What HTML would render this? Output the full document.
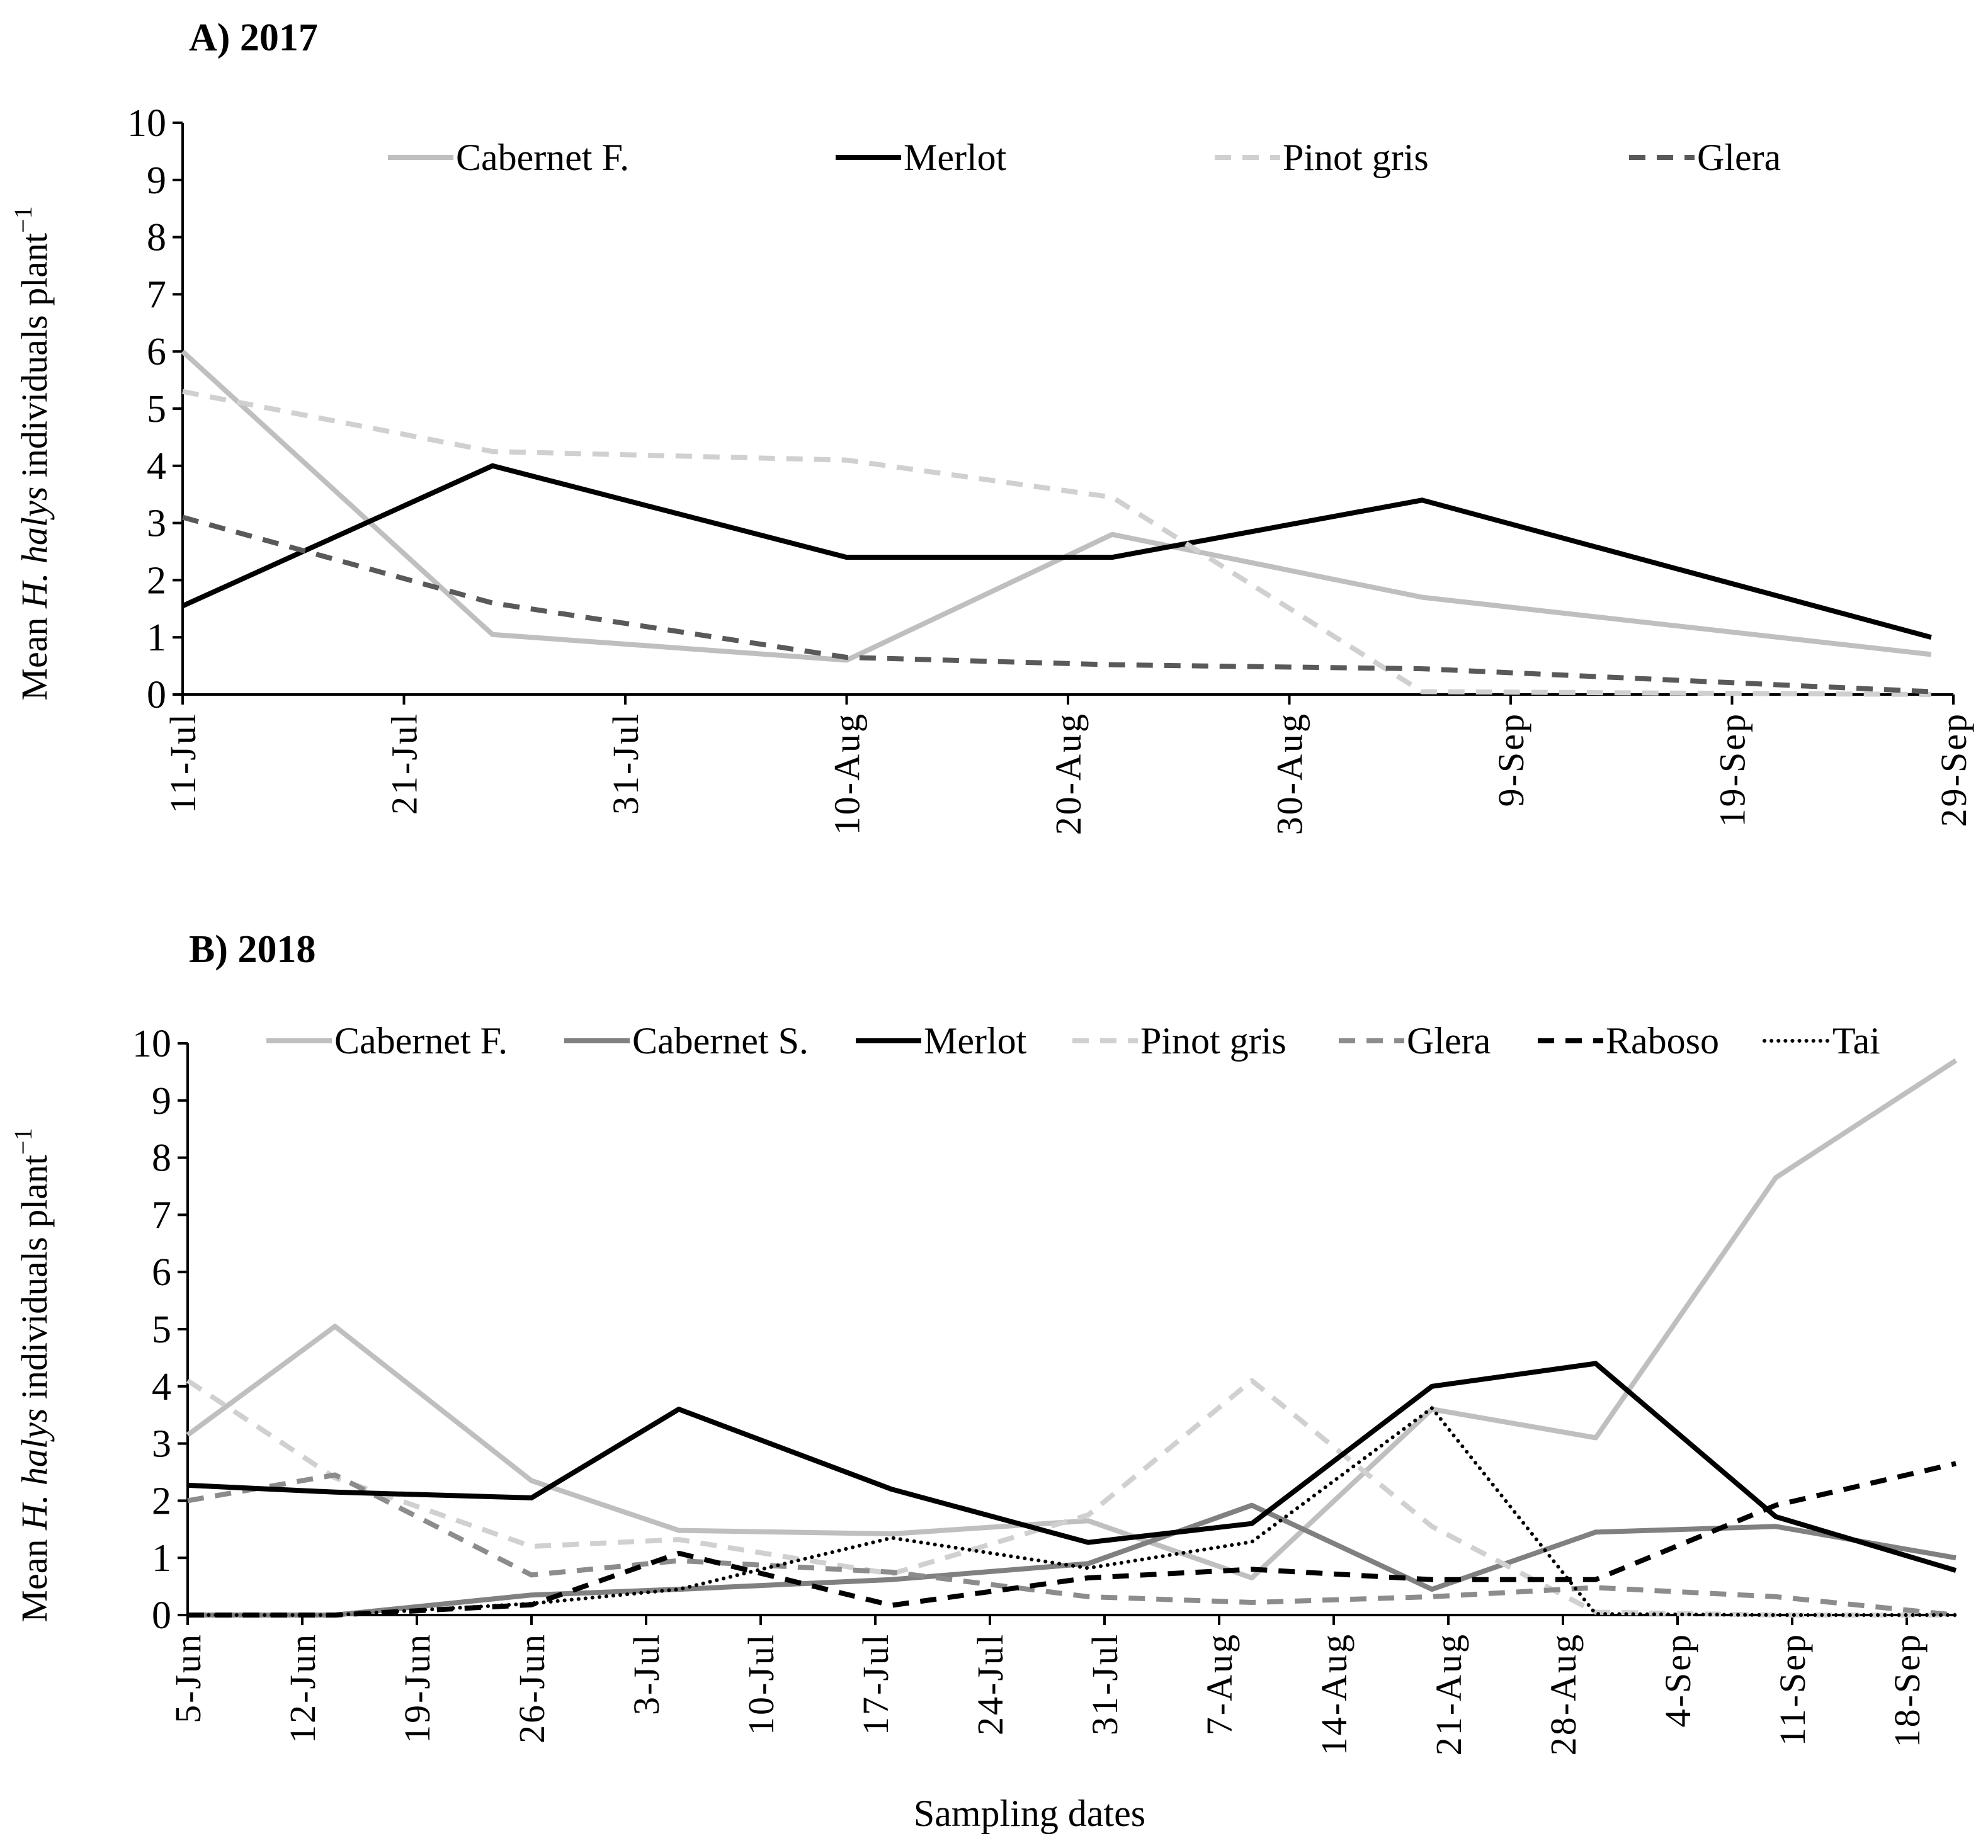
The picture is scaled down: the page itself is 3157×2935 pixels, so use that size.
<!DOCTYPE html>
<html><head><meta charset="utf-8"><style>
html,body{margin:0;padding:0;background:#fff;}
svg{display:block;font-family:"Liberation Serif",serif;}
</style></head><body>
<svg id="fig" width="3157" height="2935" viewBox="0 0 3157 2935" xmlns="http://www.w3.org/2000/svg">
<text x="300" y="80" font-size="62" font-weight="bold">A) 2017</text>
<text x="300" y="1528" font-size="62" font-weight="bold">B) 2018</text>
<text transform="translate(74,720) rotate(-90)" text-anchor="middle" font-size="58">Mean <tspan font-style="italic">H. halys</tspan> individuals plant<tspan dy="-24" font-size="40">−1</tspan></text>
<text transform="translate(74,2184) rotate(-90)" text-anchor="middle" font-size="58">Mean <tspan font-style="italic">H. halys</tspan> individuals plant<tspan dy="-24" font-size="40">−1</tspan></text>
<text x="1635" y="2900" text-anchor="middle" font-size="60">Sampling dates</text>
<g id="ga"></g><g id="gb"></g>
</svg>
<script>
// Panel A data (days since 11-Jul)
const aTickLabels = ["11-Jul","21-Jul","31-Jul","10-Aug","20-Aug","30-Aug","9-Sep","19-Sep","29-Sep"];
const aDays = [0,14,30,42,56,79];
const aCabF = [6.0,1.05,0.6,2.8,1.7,0.7];
const aMerlot = [1.55,4.0,2.4,2.4,3.4,1.0];
const aPinot = [5.3,4.25,4.1,3.45,0.05,0.0];
const aGlera = [3.1,1.6,0.65,0.52,0.45,0.05];
// Panel B data (days since 5-Jun)
const bTickLabels = ["5-Jun","12-Jun","19-Jun","26-Jun","3-Jul","10-Jul","17-Jul","24-Jul","31-Jul","7-Aug","14-Aug","21-Aug","28-Aug","4-Sep","11-Sep","18-Sep"];
const bDays = [0,9,21,30,43,55,65,76,86,97,108];
const bCabF = [3.15,5.05,2.35,1.48,1.42,1.65,0.65,3.6,3.1,7.65,9.7];
const bCabS = [0,0,0.35,0.45,0.62,0.9,1.92,0.45,1.45,1.55,1.0];
const bMerlot = [2.27,2.15,2.05,3.6,2.2,1.27,1.6,4.0,4.4,1.72,0.78];
const bPinot = [4.1,2.4,1.2,1.32,0.72,1.75,4.1,1.55,0.05,0.0,0.0];
const bGlera = [2.0,2.45,0.7,0.95,0.75,0.32,0.22,0.32,0.48,0.32,0.0];
const bRaboso = [0,0,0.18,1.08,0.17,0.65,0.8,0.62,0.62,1.92,2.65];
const bTai = [0,0,0.2,0.45,1.35,0.82,1.28,3.62,0.02,0.0,0.0];
const yTicks = [0,1,2,3,4,5,6,7,8,9,10];

const NS="http://www.w3.org/2000/svg";
function mk(tag,attrs,parent){const e=document.createElementNS(NS,tag);for(const k in attrs)e.setAttribute(k,attrs[k]);parent.appendChild(e);return e;}

function panel(g,cfg){
  const xs=d=>cfg.x0+(d-cfg.d0)*(cfg.x1-cfg.x0)/(cfg.d1-cfg.d0);
  const ys=v=>cfg.y0+(v)*(cfg.y10-cfg.y0)/10;
  const axY=mk('line',{x1:xs(cfg.d0),y1:ys(0),x2:xs(cfg.d0),y2:ys(10),stroke:'#000','stroke-width':4},g);
  
  
  yTicks.forEach(v=>{
    const t=mk('line',{x1:xs(cfg.d0)-16,y1:ys(v),x2:xs(cfg.d0),y2:ys(v),stroke:'#000','stroke-width':4},g);
    
    
    const l=mk('text',{x:xs(cfg.d0)-26,y:ys(v)+21,'text-anchor':'end','font-size':62},g);
    l.textContent=v;
    
    
  });
  const axX=mk('line',{x1:xs(cfg.d0),y1:ys(0),x2:cfg.xend,y2:ys(0),stroke:'#000','stroke-width':4},g);
  
  
  cfg.ticks.forEach((lab,i)=>{
    const d=cfg.d0+i*cfg.step;
    const t=mk('line',{x1:xs(d),y1:ys(0),x2:xs(d),y2:ys(0)+16,stroke:'#000','stroke-width':4},g);
    
    
    const l=mk('text',{transform:`translate(${xs(d)+20},${ys(0)+28}) rotate(-90)`,'text-anchor':'end','font-size':58,'letter-spacing':'3'},g);
    l.textContent=lab;
    
    
  });
  cfg.series.forEach(s=>{
    const pts=cfg.days.map((d,i)=>xs(d).toFixed(1)+','+ys(s.vals[i]).toFixed(1)).join(' ');
    const p=mk('polyline',{points:pts,fill:'none',stroke:s.color,'stroke-width':s.w||8,'stroke-dasharray':s.dash||'none','stroke-linejoin':'round','stroke-linecap':s.cap||'butt'},g);
    
    
    const ly=cfg.legY;
    const ll=mk('line',{x1:s.lx,y1:ly,x2:s.lx+104,y2:ly,stroke:s.color,'stroke-width':s.w||8,'stroke-dasharray':s.dash||'none','stroke-linecap':s.cap||'butt'},g);
    
    
    const lt=mk('text',{x:s.lx+108,y:ly+20,'font-size':60},g);
    lt.textContent=s.name;
    
    
  });
}
panel(document.getElementById('ga'),{x0:290,x1:3102,d0:0,d1:80,y0:1103,y10:195,xend:3102,step:10,ticks:aTickLabels,days:aDays,legY:250,
 series:[
  {key:'cabernet-f',name:'Cabernet F.',vals:aCabF,color:'#bfbfbf',lx:616},
  {key:'merlot',name:'Merlot',vals:aMerlot,color:'#000',lx:1327},
  {key:'pinot-gris',name:'Pinot gris',vals:aPinot,color:'#d0d0d0',dash:'26,18',lx:1929},
  {key:'glera',name:'Glera',vals:aGlera,color:'#595959',dash:'26,18',lx:2587}
 ]});
panel(document.getElementById('gb'),{x0:298,x1:3028,d0:0,d1:105,y0:2565,y10:1657,xend:3102,step:7,ticks:bTickLabels,days:bDays,legY:1653,
 series:[
  {key:'cabernet-f',name:'Cabernet F.',vals:bCabF,color:'#bfbfbf',lx:423},
  {key:'cabernet-s',name:'Cabernet S.',vals:bCabS,color:'#808080',lx:896},
  {key:'pinot-gris',name:'Pinot gris',vals:bPinot,color:'#d0d0d0',dash:'26,18',lx:1703},
  {key:'glera',name:'Glera',vals:bGlera,color:'#8c8c8c',dash:'26,18',lx:2126},
  {key:'raboso',name:'Raboso',vals:bRaboso,color:'#000',dash:'26,18',lx:2442},
  {key:'merlot',name:'Merlot',vals:bMerlot,color:'#000',lx:1359},
  {key:'tai',name:'Tai',vals:bTai,color:'#000',dash:'0.1,11',cap:'round',w:6,lx:2802}
 ]});
</script>
</body></html>
